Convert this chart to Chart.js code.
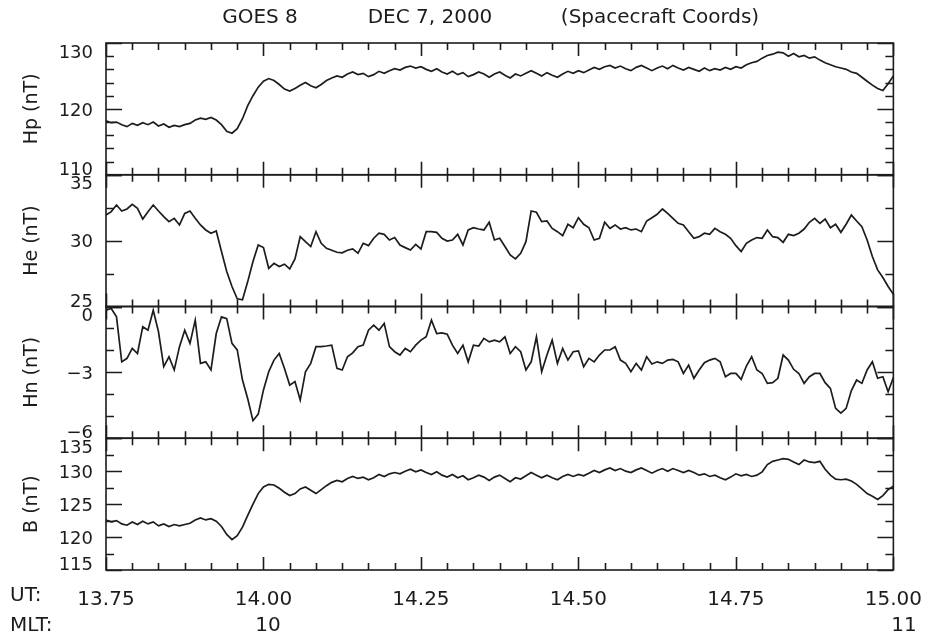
<!DOCTYPE html>
<html>
<head>
<meta charset="utf-8">
<script src="https://cdn.jsdelivr.net/npm/chart.js@4.4.0/dist/chart.umd.min.js"></script>
<style>
  html, body { margin: 0; padding: 0; background: #fff; }
  #wrap { width: 932px; height: 638px; position: relative; }
</style>
</head>
<body>
<div id="wrap"><canvas id="goesChart" width="932" height="638"></canvas></div>
<script>
// ---------------------------
// Data (GOES 8, 0.5 min samples from 13:45 UT)
// ---------------------------
const utStartMin = 825;      // 13.75 h
const stepMin = 0.5;
const titleParts = ["GOES 8", "DEC 7, 2000", "(Spacecraft Coords)"];
const mltLabels = ["10", "11"];
const mltTimes = [14.007, 15.017];   // UT hours where the MLT label sits

const hpLabels = [110, 120, 130];
const heLabels = [25, 30, 35];
const hnLabels = [-6, -3, 0];
const bLabels = [115, 120, 125, 130, 135];

const hp = [118.2,117.9,118.0,117.6,117.3,117.8,117.5,117.9,117.6,118.0,
  117.4,117.7,117.2,117.5,117.3,117.6,117.8,118.3,118.6,118.4,
  118.7,118.3,117.6,116.6,116.3,117.0,118.5,120.5,122.0,123.3,
  124.2,124.6,124.3,123.7,123.0,122.7,123.1,123.6,124.0,123.5,
  123.2,123.7,124.3,124.7,125.0,124.8,125.3,125.6,125.2,125.4,
  124.9,125.2,125.7,125.4,125.8,126.1,125.9,126.3,126.5,126.2,
  126.4,126.0,125.7,126.1,125.6,125.3,125.7,125.2,125.5,124.9,
  125.2,125.6,125.3,124.8,125.3,125.6,125.1,124.7,125.3,125.0,
  125.4,125.8,125.4,125.0,125.5,125.1,124.8,125.3,125.7,125.4,
  125.8,125.5,125.9,126.3,126.0,126.4,126.6,126.2,126.5,126.1,
  125.8,126.3,126.6,126.2,125.8,126.2,126.5,126.1,126.6,126.2,
  125.9,126.3,126.0,125.7,126.2,125.8,126.1,125.9,126.3,126.0,
  126.4,126.2,126.7,127.0,127.2,127.7,128.1,128.3,128.6,128.5,
  128.0,128.4,127.9,128.1,127.7,127.9,127.4,127.0,126.7,126.4,
  126.2,126.0,125.6,125.4,124.8,124.2,123.6,123.1,122.8,123.8,
  125.0];

const he = [31.94,32.20,32.70,32.25,32.40,32.75,32.45,31.64,32.20,32.70,
  32.25,31.82,31.44,31.69,31.19,32.07,32.25,31.69,31.19,30.81,
  30.56,30.73,29.17,27.65,26.52,25.58,25.51,26.89,28.41,29.67,
  29.47,27.90,28.28,28.03,28.21,27.85,28.61,30.30,29.92,29.55,
  30.68,29.80,29.42,29.27,29.12,29.07,29.27,29.37,29.04,29.80,
  29.62,30.18,30.56,30.48,30.05,30.23,29.67,29.47,29.29,29.72,
  29.37,30.68,30.68,30.63,30.18,29.97,30.05,30.48,29.67,30.81,
  30.98,30.88,30.81,31.39,30.05,30.18,29.55,28.91,28.61,29.04,
  29.92,32.25,32.15,31.44,31.49,30.93,30.68,30.38,31.24,30.98,
  31.74,31.24,30.98,30.05,30.18,31.39,30.93,31.19,30.88,30.98,
  30.81,30.88,30.68,31.49,31.74,32.00,32.40,32.07,31.69,31.31,
  31.19,30.68,30.18,30.30,30.56,30.48,30.93,30.68,30.48,30.18,
  29.62,29.17,29.80,30.05,30.23,30.18,30.81,30.30,30.23,29.87,
  30.48,30.38,30.56,30.88,31.39,31.69,31.31,31.64,30.98,31.24,
  30.63,31.24,31.94,31.49,31.06,30.05,28.79,27.78,27.20,26.52,
  25.93];

const hn = [-0.17,-0.09,-0.47,-2.52,-2.36,-1.91,-2.14,-0.92,-1.08,-0.17,
  -1.15,-2.74,-2.29,-2.89,-1.83,-1.08,-1.68,-0.62,-2.59,-2.52,
  -2.89,-1.23,-0.47,-0.55,-1.68,-1.98,-3.35,-4.20,-5.20,-4.90,
  -3.80,-2.97,-2.44,-2.14,-2.82,-3.58,-3.42,-4.26,-2.97,-2.59,
  -1.83,-1.83,-1.80,-1.76,-2.82,-2.89,-2.29,-2.11,-1.83,-1.76,
  -1.08,-0.85,-1.08,-0.77,-1.83,-2.06,-2.21,-1.91,-2.06,-1.76,
  -1.53,-1.38,-0.62,-1.23,-1.20,-1.26,-1.76,-2.14,-1.76,-2.52,
  -1.76,-1.80,-1.45,-1.61,-1.53,-1.61,-1.38,-2.14,-1.83,-2.06,
  -2.89,-2.52,-1.38,-2.97,-2.21,-1.53,-2.59,-1.91,-2.44,-2.06,
  -2.02,-2.74,-2.36,-2.52,-2.21,-1.98,-1.98,-1.83,-2.44,-2.59,
  -2.97,-2.59,-2.89,-2.29,-2.62,-2.52,-2.59,-2.44,-2.41,-2.52,
  -3.05,-2.67,-3.27,-2.89,-2.56,-2.44,-2.36,-2.52,-3.20,-3.05,
  -3.05,-3.32,-2.71,-2.29,-2.89,-3.05,-3.50,-3.47,-3.27,-2.21,
  -2.44,-2.86,-3.05,-3.50,-3.20,-3.05,-3.05,-3.47,-3.73,-4.64,
  -4.86,-4.64,-3.83,-3.35,-3.50,-2.89,-2.52,-3.27,-3.20,-3.88,
  -3.23];

const bt = [122.6,122.3,122.5,122.0,121.8,122.3,121.9,122.4,122.0,122.3,
  121.7,122.0,121.6,121.9,121.7,121.9,122.1,122.6,122.9,122.6,
  122.8,122.4,121.6,120.4,119.6,120.2,121.5,123.3,125.0,126.6,
  127.6,128.0,127.9,127.4,126.8,126.3,126.6,127.3,127.6,127.1,
  126.6,127.2,127.8,128.3,128.6,128.4,128.9,129.2,128.9,129.1,
  128.7,129.0,129.5,129.2,129.6,129.8,129.6,130.0,130.3,129.9,
  130.2,129.8,129.5,129.9,129.4,129.1,129.5,129.0,129.3,128.7,
  129.0,129.4,129.1,128.6,129.1,129.4,128.9,128.4,129.0,128.8,
  129.3,129.8,129.4,129.0,129.4,129.0,128.7,129.2,129.5,129.2,
  129.5,129.3,129.7,130.1,129.8,130.2,130.5,130.1,130.4,130.0,
  129.8,130.2,130.5,130.1,129.7,130.1,130.4,130.0,130.4,130.1,
  129.8,130.1,129.8,129.4,129.6,129.2,129.4,129.0,128.7,129.1,
  129.6,129.3,129.5,129.2,129.4,129.9,131.0,131.5,131.7,131.9,
  131.8,131.4,131.0,131.7,131.4,131.3,131.5,130.3,129.4,128.8,
  128.7,128.8,128.5,128.0,127.3,126.6,126.2,125.7,126.3,127.2,
  127.7];

// ---------------------------
// Panels (listed bottom to top for the stacked y axes)
// ---------------------------
const FONT = "DejaVu Sans";
const INK = "#1c1c1c";

const panels = [
  { id: "yB",  title: "B (nT)",  values: bt, min: 115, max: 135, step: 2.5, labels: bLabels },
  { id: "yHn", title: "Hn (nT)", values: hn, min: -6,  max: 0,   step: 1,   labels: hnLabels },
  { id: "yHe", title: "He (nT)", values: he, min: 25,  max: 35,  step: 2.5, labels: heLabels },
  { id: "yHp", title: "Hp (nT)", values: hp, min: 110, max: 130, step: 2,   labels: hpLabels }
];

const fmtVal = v => (v < 0 ? "\u2212" + Math.abs(v) : String(v));

const scales = {
  x: {
    type: "linear",
    position: "bottom",
    min: 825,
    max: 900,
    grid: { display: false },
    border: { display: false },
    ticks: {
      stepSize: 2.5,
      autoSkip: false,
      maxRotation: 0,
      padding: 10,
      color: INK,
      font: { family: FONT, size: 20 },
      callback: v => (v % 15 === 0 ? (v / 60).toFixed(2) : "")
    },
    afterFit: s => { s.height = 68; }
  }
};

panels.forEach(p => {
  scales[p.id] = {
    type: "linear",
    position: "left",
    stack: "panels",
    stackWeight: 1,
    min: p.min,
    max: p.max,
    grid: { display: false },
    border: { display: false },
    ticks: { display: false, stepSize: p.step },
    title: {
      display: true,
      text: p.title,
      color: INK,
      font: { family: FONT, size: 19 },
      padding: { top: 21, bottom: 0 }
    },
    afterFit: s => { s.width = 106; }
  };
});

// ---------------------------
// Frames, inward ticks and labels (IDL style)
// ---------------------------
const goesFrame = {
  id: "goesFrame",
  afterDraw(chart) {
    const ctx = chart.ctx;
    const area = chart.chartArea;
    const xs = chart.scales.x;
    const L = area.left, R = area.right;
    ctx.save();
    ctx.strokeStyle = INK;
    ctx.fillStyle = INK;
    ctx.lineWidth = 1.6;

    panels.forEach(p => {
      const s = chart.scales[p.id];
      const top = s.top, bot = s.bottom;
      ctx.strokeRect(L, top, R - L, bot - top);
      ctx.beginPath();
      xs.ticks.forEach(t => {
        const x = Math.round(xs.getPixelForValue(t.value)) + 0.5;
        const len = t.value % 15 === 0 ? 13 : 7;
        ctx.moveTo(x, top); ctx.lineTo(x, top + len);
        ctx.moveTo(x, bot); ctx.lineTo(x, bot - len);
      });
      s.ticks.forEach(t => {
        const y = Math.round(s.getPixelForValue(t.value)) + 0.5;
        const len = p.labels.includes(t.value) ? 16 : 8;
        ctx.moveTo(L, y); ctx.lineTo(L + len, y);
        ctx.moveTo(R, y); ctx.lineTo(R - len, y);
      });
      ctx.stroke();

      ctx.font = "18px '" + FONT + "'";
      ctx.textAlign = "right";
      p.labels.forEach((v, k) => {
        const y = s.getPixelForValue(v);
        if (k === 0) { ctx.textBaseline = "alphabetic"; ctx.fillText(fmtVal(v), L - 13, y); }
        else if (k === p.labels.length - 1) { ctx.textBaseline = "top"; ctx.fillText(fmtVal(v), L - 13, y + 1); }
        else { ctx.textBaseline = "middle"; ctx.fillText(fmtVal(v), L - 13, y + 2); }
      });
    });

    // title
    ctx.font = "20px '" + FONT + "'";
    ctx.textAlign = "center";
    ctx.textBaseline = "middle";
    const titleX = [260, 430, 660];
    titleParts.forEach((t, i) => ctx.fillText(t, titleX[i], 18));

    // UT / MLT rows
    ctx.textAlign = "left";
    ctx.fillText("UT:", 10, 596);
    ctx.fillText("MLT:", 10, 626);
    ctx.textAlign = "center";
    mltLabels.forEach((t, i) => ctx.fillText(t, xs.getPixelForValue(mltTimes[i] * 60), 626));
    ctx.restore();
  }
};

// ---------------------------
// Chart
// ---------------------------
const datasets = panels.map(p => ({
  label: p.title,
  yAxisID: p.id,
  xAxisID: "x",
  data: p.values.map((v, i) => ({ x: utStartMin + i * stepMin, y: v })),
  borderColor: INK,
  borderWidth: 1.7,
  pointRadius: 0,
  fill: false,
  tension: 0
}));

new Chart(document.getElementById("goesChart").getContext("2d"), {
  type: "line",
  data: { datasets },
  options: {
    responsive: false,
    animation: false,
    layout: { padding: { top: 43, right: 34, bottom: 0, left: 0 } },
    plugins: { legend: { display: false }, tooltip: { enabled: false } },
    scales
  },
  plugins: [goesFrame]
});
</script>
</body>
</html>
